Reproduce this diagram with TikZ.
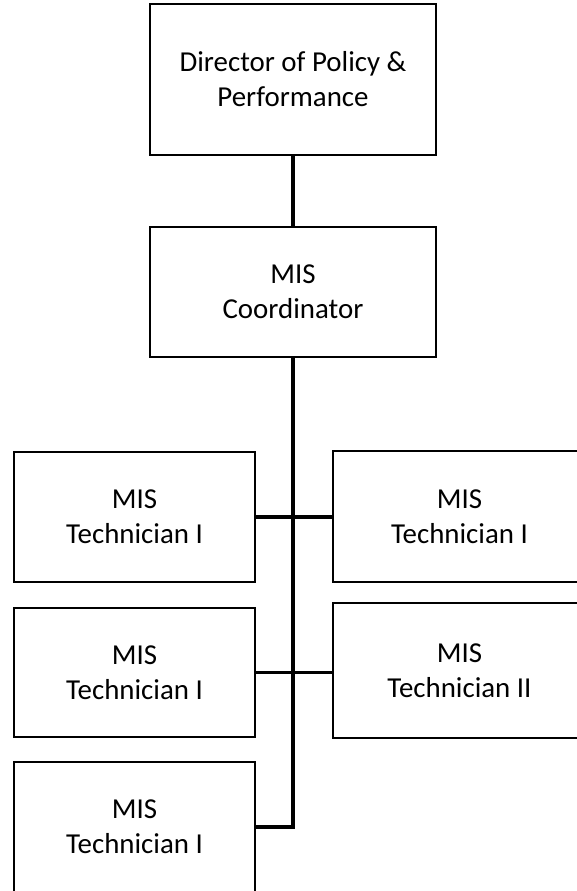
\documentclass[tikz,border=0pt]{standalone}
\usepackage{fontspec}
\setmainfont{Carlito}
\begin{document}
\begin{tikzpicture}[x=1bp,y=-1bp,
  orgbox/.style={draw=black, line width=1.6bp, fill=white, inner sep=0pt, align=center,
    font=\fontsize{29}{35}\selectfont},
  link/.style={line width=3.2bp, black}]
\useasboundingbox (0,0) rectangle (577,891);
\clip (0,0) rectangle (577,891);
\node[orgbox, minimum width=286bp, minimum height=151bp] (dir) at (293,79.5) {Director of Policy \&\\Performance};
\node[orgbox, minimum width=286bp, minimum height=130bp] (coord) at (293,292) {MIS\\Coordinator};
\node[orgbox, minimum width=241bp, minimum height=130bp] (t1) at (134.5,517) {MIS\\Technician I};
\node[orgbox, minimum width=241bp, minimum height=129bp] (t2) at (134.5,672.5) {MIS\\Technician I};
\node[orgbox, minimum width=241bp, minimum height=130bp] (t3) at (134.5,827) {MIS\\Technician I};
\node[orgbox, minimum width=253bp, minimum height=131bp] (r1) at (459.5,516.5) {MIS\\Technician I};
\node[orgbox, minimum width=253bp, minimum height=135bp] (r2) at (459.5,670.5) {MIS\\Technician II};
\coordinate (trunkend) at (293,827);
\draw[link] (dir.south) -- (coord.north);
\draw[link] (coord.south) -- (trunkend) -- (t3.east);
\draw[link] (t1.east) -- (t1.east -| r1.west);
\draw[link] (t2.east) -- (t2.east -| r2.west);
\end{tikzpicture}
\end{document}
